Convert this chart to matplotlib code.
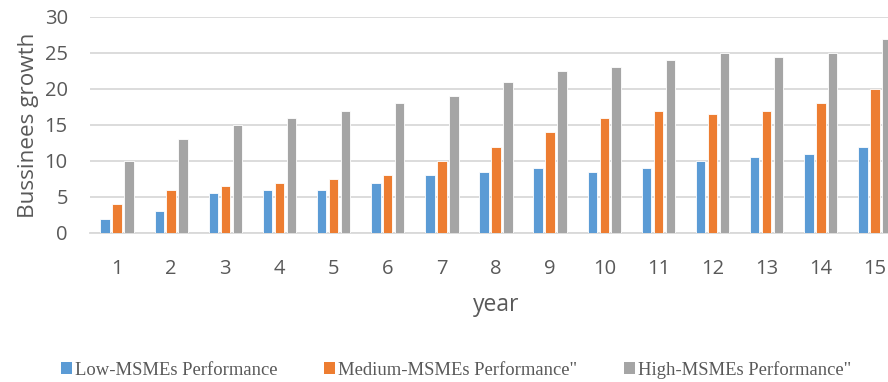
import matplotlib
matplotlib.use("Agg")
import matplotlib.pyplot as plt
from matplotlib.patches import Patch
import numpy as np

years = list(range(1, 16))
low = [2, 3, 5.5, 6, 6, 7, 8, 8.5, 9, 8.5, 9, 10, 10.5, 11, 12]
medium = [4, 6, 6.5, 7, 7.5, 8, 10, 12, 14, 16, 17, 16.5, 17, 18, 20]
high = [10, 13, 15, 16, 17, 18, 19, 21, 22.5, 23, 24, 25, 24.5, 25, 27]
series_names = ["Low-MSMEs Performance", "Medium-MSMEs Performance\"",
                "High-MSMEs Performance\""]
colors = ["#5B9BD5", "#ED7D31", "#A5A5A5"]
yticks = [0, 5, 10, 15, 20, 25, 30]

text_color = "#595959"
sans = ["Open Sans", "DejaVu Sans"]

fig = plt.figure(figsize=(8.88, 3.82), dpi=100)
ax = fig.add_axes([90 / 888, 1 - 233 / 382, 812 / 888, 216 / 382])

x = np.arange(len(years))
width = 0.175
offsets = [-0.22, 0.0, 0.22]
for vals, off, c in zip([low, medium, high], offsets, colors):
    ax.bar(x + off, vals, width=width, color=c, edgecolor="white",
           linewidth=0.6, zorder=3)

ax.set_xlim(-0.5, len(years) - 0.5)
ax.set_ylim(0, 30)
ax.set_yticks(yticks)
ax.set_xticks(x)
ax.set_xticklabels([str(y) for y in years])
ax.grid(axis="y", color="#D9D9D9", linewidth=1.3, zorder=0)
ax.tick_params(length=0, labelsize=14.5, labelcolor=text_color)
ax.tick_params(axis="x", pad=19)
ax.tick_params(axis="y", pad=16)
for lbl in ax.get_xticklabels() + ax.get_yticklabels():
    lbl.set_family(sans)
for s in ["top", "right", "left"]:
    ax.spines[s].set_visible(False)
ax.spines["bottom"].set_color("#D9D9D9")
ax.spines["bottom"].set_linewidth(1.3)

ax.set_ylabel("Bussinees growth", fontsize=16.2, color=text_color,
              family=sans, labelpad=4)
ax.set_xlabel("year", fontsize=16.5, color=text_color, family=sans,
              labelpad=10)

handles = [Patch(facecolor=c, edgecolor="none") for c in colors]
leg = fig.legend(handles, series_names, loc="center", ncol=3,
                 bbox_to_anchor=(456 / 888, 1 - 370 / 382), frameon=False,
                 prop={"family": ["Liberation Serif"], "size": 13.4},
                 handlelength=0.6, handleheight=0.6, handletextpad=0.15,
                 columnspacing=2.5, borderaxespad=0)
for t in leg.get_texts():
    t.set_color(text_color)

fig.savefig("out.png", dpi=100)
